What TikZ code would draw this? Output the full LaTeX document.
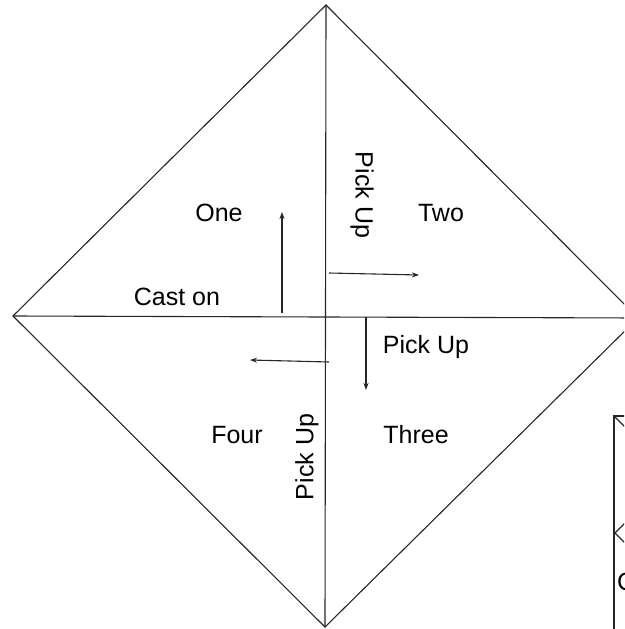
\documentclass[tikz,border=0pt]{standalone}
\usepackage{fontspec}
\setmainfont{Liberation Sans}
\usetikzlibrary{arrows.meta}
\begin{document}
\begin{tikzpicture}[x=1pt,y=-1pt,
  edge/.style={draw=black!85,line width=1.1pt},
  arr/.style={draw=black!85,line width=1.1pt,-{Stealth[length=7pt,width=5pt]}},
  lbl/.style={font=\fontsize{25}{29}\selectfont,inner sep=0pt}]
\useasboundingbox (0,0) rectangle (624,629);
\clip (0,0) rectangle (624,629);
\coordinate (T) at (326,5);
\coordinate (L) at (13,316);
\coordinate (B) at (325,627);
\coordinate (R) at (638,318);
\draw[edge] (T) -- (L) -- (B) -- (R) -- cycle;
\draw[edge] (T) -- (B);
\draw[edge] (L) -- (R);
% arrows
\coordinate (a1s) at (282,313); \coordinate (a1e) at (282,212);
\coordinate (a2s) at (329,273); \coordinate (a2e) at (419,275);
\coordinate (a3s) at (366,317); \coordinate (a3e) at (366,390);
\coordinate (a4s) at (329,362); \coordinate (a4e) at (250,360);
\draw[arr] (a1s) -- (a1e);
\draw[arr] (a2s) -- (a2e);
\draw[arr] (a3s) -- (a3e);
\draw[arr] (a4s) -- (a4e);
% labels
\node[lbl] (one) at (219,213) {One};
\node[lbl] (two) at (441,213) {Two};
\node[lbl] (cast) at (177,297) {Cast on};
\node[lbl,rotate=-90] (pu1) at (362,195) {Pick Up};
\node[lbl] (pu2) at (426,347) {Pick Up};
\node[lbl] (four) at (237,435) {Four};
\node[lbl] (three) at (416,435) {Three};
\node[lbl,rotate=90] (pu3) at (307,457) {Pick Up};
% partial second diagram at right edge
\coordinate (s1) at (614,629);
\coordinate (s2) at (614,416);
\coordinate (s3) at (626,416);
\draw[edge] (s1) -- (s2) -- (s3);
\draw[edge] (615,417) -- (626,428);
\draw[edge] (626,522) -- (615,533) -- (626,544);
\node[lbl,anchor=west] (sc) at (617,582) {C};
\end{tikzpicture}
\end{document}
